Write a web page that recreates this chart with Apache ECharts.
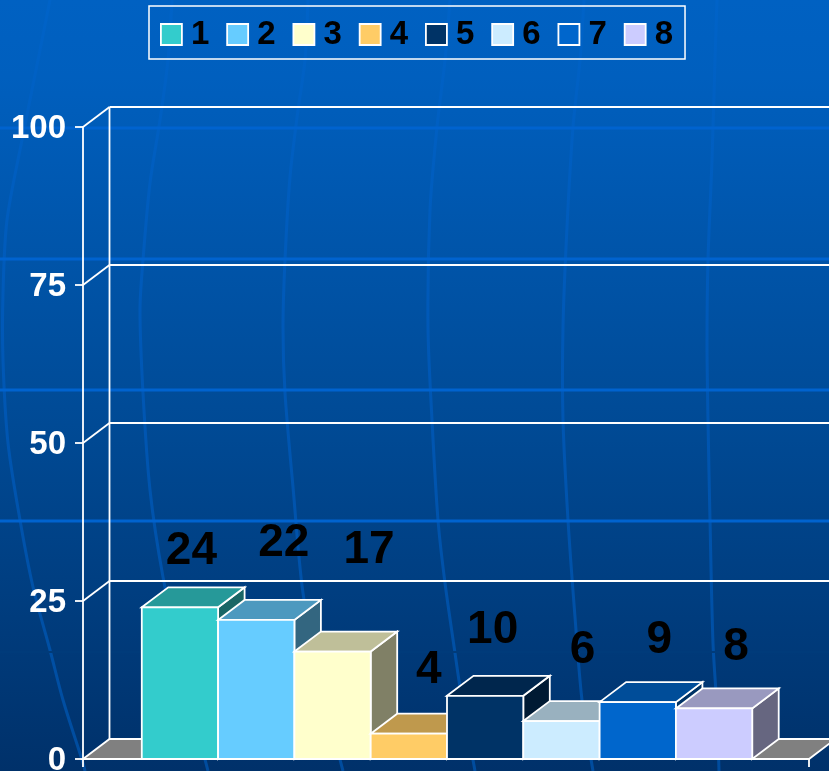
<!DOCTYPE html>
<html>
<head>
<meta charset="utf-8">
<style>html,body{margin:0;padding:0;background:#003366}#c{width:829px;height:771px}</style>
<script src="https://cdn.jsdelivr.net/npm/echarts@6/dist/echarts.min.js"></script>
</head>
<body>
<div id="c"></div>
<script>
const seriesNames = ['1','2','3','4','5','6','7','8'];
const seriesValues = [24,22,17,4,10,6,9,8];
const seriesColors = ['#33CCCC','#66CCFF','#FFFFCC','#FFCC66','#003366','#CCECFF','#0066CC','#CCCCFF'];
const yTicks = [0,25,50,75,100];
const categories = [''];
const labelOffsets = [[11.5,-56],[27.5,-77],[36.5,-101],[20,-63],[7.5,-65],[21,-71],[21.5,-62],[22,-61]];

const DEPTH_X = 26.5, DEPTH_Y = -20, BAR_RATIO = 0.1051, BAR_NUDGE = 1.0;
const LINE = {stroke:'#fff', lineWidth:1.8};

function shade(hex,k){
  const n=parseInt(hex.slice(1),16);
  const c=[(n>>16)&255,(n>>8)&255,n&255].map(v=>Math.round(v*k));
  return 'rgb('+c.join(',')+')';
}
function renderBar(i){
  return function(params,api){
    const band=api.size([1,0])[0];
    const c=api.coord([0,api.value(1)]);
    const base=api.coord([0,0]);
    const w=band*BAR_RATIO;
    const x=c[0]+(i-4)*w+BAR_NUDGE;
    const top=c[1], bot=base[1];
    const color=api.visual('color');
    const off=labelOffsets[i];
    return {type:'group',children:[
      {type:'polygon',shape:{points:[[x+w,top],[x+w+DEPTH_X,top+DEPTH_Y],[x+w+DEPTH_X,bot+DEPTH_Y],[x+w,bot]]},style:Object.assign({fill:shade(color,0.5)},LINE)},
      {type:'polygon',shape:{points:[[x,top],[x+DEPTH_X,top+DEPTH_Y],[x+w+DEPTH_X,top+DEPTH_Y],[x+w,top]]},style:Object.assign({fill:shade(color,0.75)},LINE)},
      {type:'rect',shape:{x:x,y:top,width:w,height:bot-top},style:Object.assign({fill:color},LINE)},
      {type:'text',z2:50,style:{x:x+w/2+off[0],y:top+off[1],text:String(api.value(1)),fill:'#000',
        font:'bold 46px "Liberation Sans", Arial, sans-serif',align:'center',verticalAlign:'middle'}}
    ]};
  };
}
function renderWall(params,api){
  const v=api.value(1);
  const c=api.coord([0,v]);
  const band=api.size([1,0])[0];
  const left=c[0]-band/2, right=c[0]+band/2, y=c[1];
  const kids=[];
  if(v===0){
    const top=api.coord([0,100])[1];
    kids.push({type:'polygon',shape:{points:[[left,y],[left+DEPTH_X,y+DEPTH_Y],[right+DEPTH_X,y+DEPTH_Y],[right,y]]},style:Object.assign({fill:'#808080'},LINE)});
    kids.push({type:'line',shape:{x1:left+DEPTH_X,y1:y+DEPTH_Y,x2:left+DEPTH_X,y2:top+DEPTH_Y},style:LINE});
  } else {
    kids.push({type:'line',shape:{x1:left,y1:y,x2:left+DEPTH_X,y2:y+DEPTH_Y},style:LINE});
    kids.push({type:'line',shape:{x1:left+DEPTH_X,y1:y+DEPTH_Y,x2:right+DEPTH_X,y2:y+DEPTH_Y},style:LINE});
  }
  return {type:'group',children:kids};
}

// decorative backdrop of the slide
const backdropBands = [128,259,390,521];
const backdropBreakY = 652;
const backdropCurves = [
  [[50,0],[38,60],[22,140],[7,220],[3,293],[3,360],[8,443],[20,520],[33,587],[50,650],[63,700],[83,763],[85,771]],
  [[172,0],[168,60],[160,120],[150,183],[143,260],[140,310],[143,393],[150,490],[163,577],[185,680],[208,771]],
  [[308,0],[305,60],[298,110],[290,177],[285,260],[283,327],[285,393],[293,487],[303,593],[320,680],[343,771]],
  [[450,0],[445,60],[437,127],[430,210],[428,327],[432,420],[438,520],[445,583],[455,653],[460,687],[475,771]],
  [[584,0],[580,60],[573,127],[567,227],[563,327],[563,420],[568,520],[575,617],[582,700],[593,771]],
  [[717,0],[715,60],[712,160],[708,260],[707,343],[708,420],[710,520],[713,643],[717,710],[719,771]]
];
const curveStroke = {type:'linear',x:0,y:0,x2:0,y2:771,global:true,colorStops:[
  {offset:0,color:'#0063c8'},{offset:0.4,color:'#0059b8'},{offset:1,color:'#004c9e'}]};
const graphics = [];
backdropCurves.forEach(p=>graphics.push({type:'polyline',silent:true,z:-2,shape:{points:p,smooth:0.3},style:{stroke:curveStroke,lineWidth:3,fill:null}}));
backdropBands.forEach(y=>graphics.push({type:'line',silent:true,z:-1,shape:{x1:0,y1:y,x2:829,y2:y},style:{stroke:'#0063cf',lineWidth:3}}));
graphics.push({type:'line',silent:true,z:-1,shape:{x1:0,y1:backdropBreakY,x2:829,y2:backdropBreakY},style:{stroke:'#003b7a',lineWidth:2}});

const chart=echarts.init(document.getElementById('c'),null,{renderer:'canvas'});
chart.setOption({
  animation:false,
  backgroundColor:{type:'linear',x:0,y:0,x2:0,y2:1,colorStops:[
    {offset:0,color:'#0061c2'},{offset:0.1,color:'#005fbe'},{offset:0.55,color:'#004a95'},{offset:1,color:'#00316a'}]},
  graphic:graphics,
  legend:{
    data:seriesNames,left:149,top:6,icon:'rect',itemWidth:21,itemHeight:21,itemGap:17,padding:[12,12,8,11],
    borderColor:'#fff',borderWidth:1.5,selectedMode:false,
    itemStyle:{borderColor:'#fff',borderWidth:1.8},
    textStyle:{color:'#000',fontSize:33,fontWeight:'bold',fontFamily:'"Liberation Sans", Arial, sans-serif',padding:[0,0,0,4]}
  },
  grid:{left:83,right:20,top:127,bottom:12,containLabel:false,outerBoundsMode:'none'},
  xAxis:{type:'category',data:categories,boundaryGap:true,
    axisLine:{show:true,lineStyle:{color:'#fff',width:1.8}},
    axisTick:{show:true,length:8,lineStyle:{color:'#fff',width:1.8}},axisLabel:{show:false},splitLine:{show:false}},
  yAxis:{type:'value',min:0,max:100,interval:25,
    axisLine:{show:true,lineStyle:{color:'#fff',width:1.8}},
    axisTick:{show:true,length:8,lineStyle:{color:'#fff',width:1.8}},
    axisLabel:{color:'#fff',fontSize:33,fontWeight:'bold',fontFamily:'"Liberation Sans", Arial, sans-serif',margin:17,verticalAlign:'top',lineHeight:4},
    splitLine:{show:false}},
  series:[
    {type:'custom',name:'wall',z:1,silent:true,renderItem:renderWall,encode:{x:0,y:1},data:yTicks.map(t=>[0,t])}
  ].concat(seriesNames.map((name,i)=>({
    type:'custom',name:name,z:3+i,silent:true,renderItem:renderBar(i),encode:{x:0,y:1},
    itemStyle:{color:seriesColors[i]},data:[[0,seriesValues[i]]]
  })))
});
</script>
</body>
</html>
